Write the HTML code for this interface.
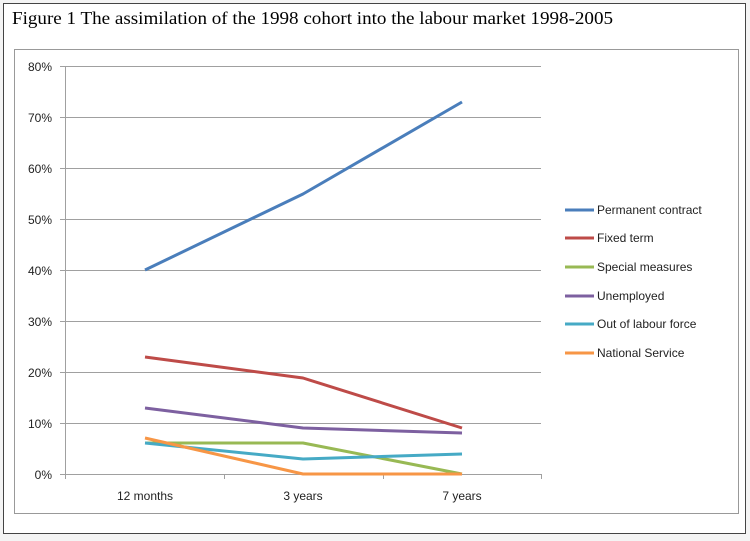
<!DOCTYPE html>
<html><head><style>
body{margin:0;width:750px;height:541px;background:#f4f4f4;overflow:hidden}
</style></head><body>
<svg width="750" height="541" xmlns="http://www.w3.org/2000/svg" style="position:absolute;left:0;top:0">
<rect x="3.5" y="3.5" width="742" height="530" fill="#fff" stroke="#444" stroke-width="1"/>
<text x="12" y="24" font-family="Liberation Serif, serif" font-size="18" fill="#000" textLength="601" lengthAdjust="spacingAndGlyphs">Figure 1  The assimilation of the 1998 cohort into the labour market 1998-2005</text>
<rect x="14.5" y="49.5" width="724" height="464" fill="#fff" stroke="#999" stroke-width="1"/>
<g stroke="#a0a0a0" stroke-width="1">
<line x1="65" y1="66.5" x2="541" y2="66.5"/>
<line x1="65" y1="117.5" x2="541" y2="117.5"/>
<line x1="65" y1="168.5" x2="541" y2="168.5"/>
<line x1="65" y1="219.5" x2="541" y2="219.5"/>
<line x1="65" y1="270.5" x2="541" y2="270.5"/>
<line x1="65" y1="321.5" x2="541" y2="321.5"/>
<line x1="65" y1="372.5" x2="541" y2="372.5"/>
<line x1="65" y1="423.5" x2="541" y2="423.5"/>
<line x1="60" y1="474.5" x2="541" y2="474.5"/>
<line x1="65.5" y1="66" x2="65.5" y2="479"/>
<line x1="60" y1="66.5" x2="65" y2="66.5"/><line x1="60" y1="117.5" x2="65" y2="117.5"/><line x1="60" y1="168.5" x2="65" y2="168.5"/><line x1="60" y1="219.5" x2="65" y2="219.5"/><line x1="60" y1="270.5" x2="65" y2="270.5"/><line x1="60" y1="321.5" x2="65" y2="321.5"/><line x1="60" y1="372.5" x2="65" y2="372.5"/><line x1="60" y1="423.5" x2="65" y2="423.5"/>
<line x1="224.5" y1="474" x2="224.5" y2="479"/><line x1="383.5" y1="474" x2="383.5" y2="479"/><line x1="541.5" y1="474" x2="541.5" y2="479"/>
</g>
<g font-family="Liberation Sans, sans-serif" font-size="12" fill="#222" text-anchor="end">
<text x="52" y="71">80%</text><text x="52" y="122">70%</text><text x="52" y="173">60%</text><text x="52" y="224">50%</text><text x="52" y="275">40%</text><text x="52" y="326">30%</text><text x="52" y="377">20%</text><text x="52" y="428">10%</text><text x="52" y="479">0%</text>
</g>
<g font-family="Liberation Sans, sans-serif" font-size="12" fill="#222" text-anchor="middle">
<text x="145" y="500">12 months</text><text x="303" y="500">3 years</text><text x="462" y="500">7 years</text>
</g>
<g fill="none" stroke-width="3" stroke-linejoin="round">
<polyline stroke="#4a7ebb" points="145,270 303,194 462,102"/>
<polyline stroke="#be4b48" points="145,357 303,378 462,428"/>
<polyline stroke="#98b954" points="145,443 303,443 462,474"/>
<polyline stroke="#7d60a0" points="145,408 303,428 462,433"/>
<polyline stroke="#46aac5" points="145,443 303,459 462,454"/>
<polyline stroke="#f79646" points="145,438 303,474 462,474"/>
</g>
<g stroke-width="3">
<line x1="565" y1="210" x2="594" y2="210" stroke="#4a7ebb"/>
<line x1="565" y1="238" x2="594" y2="238" stroke="#be4b48"/>
<line x1="565" y1="267" x2="594" y2="267" stroke="#98b954"/>
<line x1="565" y1="296" x2="594" y2="296" stroke="#7d60a0"/>
<line x1="565" y1="324" x2="594" y2="324" stroke="#46aac5"/>
<line x1="565" y1="353" x2="594" y2="353" stroke="#f79646"/>
</g>
<g font-family="Liberation Sans, sans-serif" font-size="12" fill="#222">
<text x="597" y="214">Permanent contract</text>
<text x="597" y="242">Fixed term</text>
<text x="597" y="271">Special measures</text>
<text x="597" y="300">Unemployed</text>
<text x="597" y="328">Out of labour force</text>
<text x="597" y="357">National Service</text>
</g>
</svg>
</body></html>
